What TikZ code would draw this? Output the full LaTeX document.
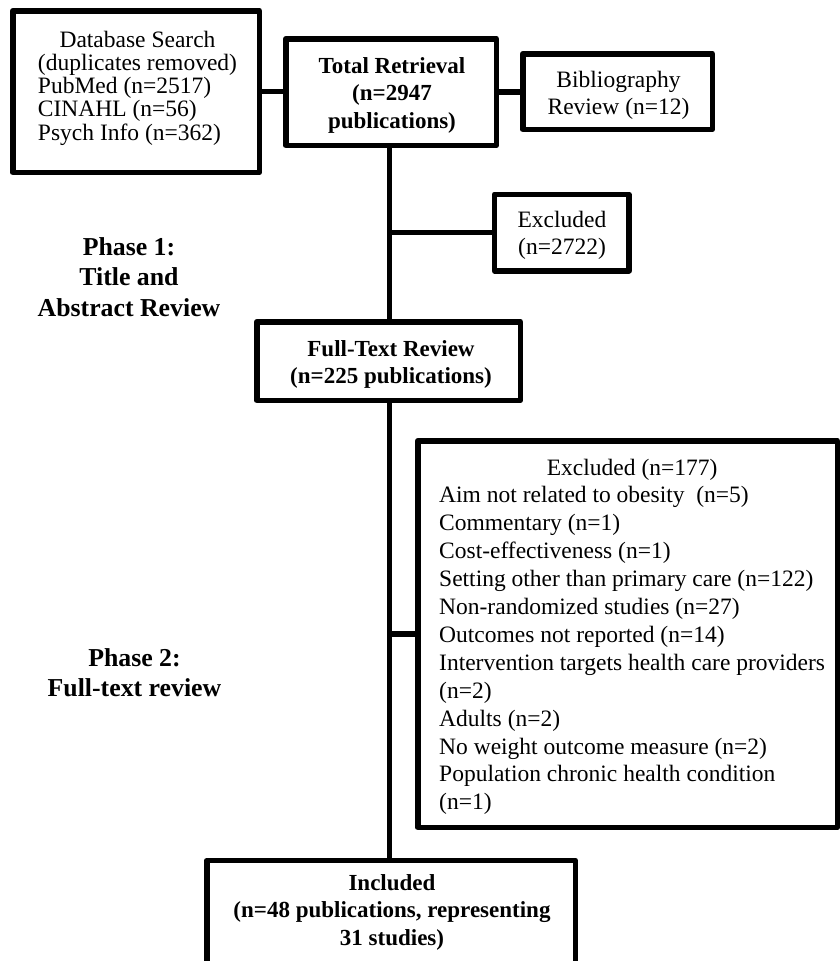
\documentclass[tikz,border=0pt]{standalone}
\usepackage{fontspec}
\setmainfont{Liberation Serif}
\begin{document}
\begin{tikzpicture}[x=1pt,y=-1pt,
  box/.style={draw=black, line width=5.5pt, line join=round, rectangle, inner sep=0pt, fill=white},
  conn/.style={draw=black, line width=5.5pt},
  regtext/.style={anchor=base, inner sep=0pt, font=\fontsize{23.5}{27.5}\selectfont},
  boldtext/.style={anchor=base, inner sep=0pt, font=\bfseries\fontsize{23}{27.5}\selectfont},
  phasetext/.style={anchor=base, inner sep=0pt, font=\bfseries\fontsize{25.8}{30.5}\selectfont}]
\useasboundingbox (0,0) rectangle (840,961);
\clip (0,0) rectangle (840,961);
\fill[white] (0,0) rectangle (840,961);

% boxes
\node[box, minimum width=246.5pt, minimum height=161.5pt] (db) at (136,91.5) {};
\node[box, minimum width=210.5pt, minimum height=106.5pt] (total) at (391,92) {};
\node[box, minimum width=189.5pt, minimum height=75.5pt] (bib) at (617.5,91.5) {};
\node[box, minimum width=134.5pt, minimum height=76.5pt] (exa) at (561.7,232.5) {};
\node[box, minimum width=263.5pt, minimum height=78.5pt] (full) at (388.5,361) {};
\node[box, minimum width=419.5pt, minimum height=386.5pt] (exb) at (627.5,634) {};
\node[box, minimum width=368.5pt, minimum height=140pt, anchor=north] (incl) at (391,857.75) {};

% connectors
\coordinate (v) at (389.5,0);
\draw[conn] (db.east) -- (db.east -| total.west);
\draw[conn] (total.east) -- (total.east -| bib.west);
\draw[conn] (total.south -| v) -- (full.north -| v);
\draw[conn] (full.south -| v) -- (incl.north -| v);
\draw[conn] (exa.west -| v) -- (exa.west);
\draw[conn] (exb.west -| v) -- (exb.west);

% texts
\node[regtext, font=\fontsize{23.5}{23.3}\selectfont] (dbt) at (137.5,47)
  {\begin{tabular}[t]{@{}l@{}}\multicolumn{1}{@{}c@{}}{Database Search}\\(duplicates removed)\\PubMed (n=2517)\\CINAHL (n=56)\\Psych Info (n=362)\end{tabular}};
\node[boldtext] (totalt) at (392,73)
  {\begin{tabular}[t]{@{}c@{}}Total Retrieval\\(n=2947\\publications)\end{tabular}};
\node[regtext] (bibt) at (618.5,87)
  {\begin{tabular}[t]{@{}c@{}}Bibliography\\Review (n=12)\end{tabular}};
\node[regtext] (exat) at (562,227)
  {\begin{tabular}[t]{@{}c@{}}Excluded\\(n=2722)\end{tabular}};
\node[boldtext] (fullt) at (391,356)
  {\begin{tabular}[t]{@{}c@{}}Full-Text Review\\(n=225 publications)\end{tabular}};
\node[regtext, anchor=base west, font=\fontsize{23.5}{27.9}\selectfont] (exbt) at (439,475)
  {\begin{tabular}[t]{@{}l@{}}\multicolumn{1}{@{}c@{}}{Excluded (n=177)}\\
  Aim not related to obesity\ \ (n=5)\\
  Commentary (n=1)\\
  Cost-effectiveness (n=1)\\
  Setting other than primary care (n=122)\\
  Non-randomized studies (n=27)\\
  Outcomes not reported (n=14)\\
  Intervention targets health care providers\\
  (n=2)\\
  Adults (n=2)\\
  No weight outcome measure (n=2)\\
  Population chronic health condition\\
  (n=1)\end{tabular}};
\node[boldtext] (inclt) at (392,890)
  {\begin{tabular}[t]{@{}c@{}}Included\\(n=48 publications, representing\\31 studies)\end{tabular}};
\node[phasetext] (ph1) at (129,255)
  {\begin{tabular}[t]{@{}c@{}}Phase 1:\\Title and\\Abstract Review\end{tabular}};
\node[phasetext] (ph2) at (134.5,666)
  {\begin{tabular}[t]{@{}c@{}}Phase 2:\\Full-text review\end{tabular}};
\end{tikzpicture}
\end{document}
